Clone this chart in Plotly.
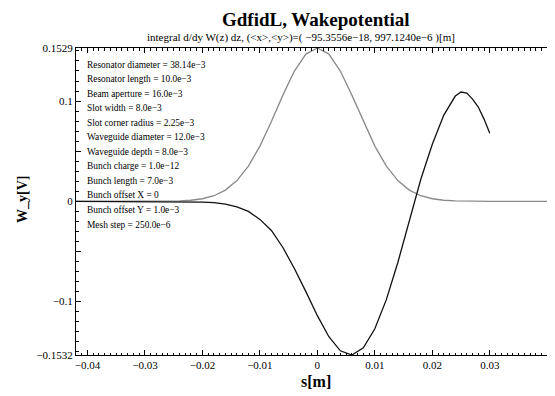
import plotly.graph_objects as go

# ---- data ----
s_charge = [-0.042, -0.030, -0.028, -0.026, -0.024, -0.022, -0.020, -0.018, -0.016, -0.014,
            -0.012, -0.010, -0.008, -0.006, -0.004, -0.002, 0.000, 0.002, 0.004, 0.006,
            0.008, 0.010, 0.012, 0.014, 0.016, 0.018, 0.020, 0.022, 0.024, 0.026,
            0.028, 0.030, 0.041]
charge = [0.0, 0.0, 0.0, 0.0001, 0.0004, 0.0011, 0.0026, 0.0056, 0.0112, 0.0207,
          0.0352, 0.0551, 0.0796, 0.1059, 0.1299, 0.1468, 0.1529, 0.1468, 0.1299, 0.1059,
          0.0796, 0.0551, 0.0352, 0.0207, 0.0112, 0.0056, 0.0026, 0.0011, 0.0004, 0.0001,
          0.0, 0.0, 0.0]

s_wake = [-0.042, -0.030, -0.024, -0.020, -0.018, -0.016, -0.014, -0.012, -0.010, -0.008,
          -0.006, -0.004, -0.002, 0.000, 0.002, 0.004, 0.006, 0.008, 0.010, 0.012,
          0.014, 0.016, 0.018, 0.020, 0.022, 0.024, 0.025, 0.026, 0.027, 0.028,
          0.029, 0.030]
wake = [0.0, 0.0, -0.0002, -0.0007, -0.0013, -0.0028, -0.0055, -0.0100, -0.0180, -0.0290,
        -0.0460, -0.0670, -0.0900, -0.1140, -0.1350, -0.1490, -0.1532, -0.1460, -0.1270, -0.0980,
        -0.0610, -0.0200, 0.0220, 0.0570, 0.0860, 0.1050, 0.1090, 0.1080, 0.1020, 0.0940,
        0.0820, 0.0680]

x_tickvals = [-0.04, -0.03, -0.02, -0.01, 0, 0.01, 0.02, 0.03, 0.04]
x_ticktext = ["−0.04", "−0.03", "−0.02", "−0.01", "0", "0.01", "0.02", "0.03", "0.04"]
y_tickvals = [-0.1532, -0.1, -0.05, 0, 0.05, 0.1, 0.1529]
y_ticktext = ["−0.1532", "−0.1", "", "0", "", "0.1", "0.1529"]

params = [
    "Resonator diameter = 38.14e−3",
    "Resonator length = 10.0e−3",
    "Beam aperture = 16.0e−3",
    "Slot width = 8.0e−3",
    "Slot corner radius = 2.25e−3",
    "Waveguide diameter = 12.0e−3",
    "Waveguide depth = 8.0e−3",
    "Bunch charge = 1.0e−12",
    "Bunch length = 7.0e−3",
    "Bunch offset X = 0",
    "Bunch offset Y = 1.0e−3",
    "Mesh step = 250.0e−6",
]

title = "GdfidL, Wakepotential"
subtitle = "integral d/dy W(z) dz, (&lt;x&gt;,&lt;y&gt;)=( −95.3556e−18, 997.1240e−6 )[m]"

# ---- figure ----
# the page body has an 8px default margin, so the figure is laid out 8px smaller
# and every reference pixel position is shifted by that offset
OFF = 8
W, H = 555 - OFF, 396 - OFF
L, R, T, B = 76 - OFF, 2, 48 - OFF, 41
FONT = "Liberation Serif, Times New Roman, serif"

fig = go.Figure()
fig.add_trace(go.Scatter(x=s_charge, y=charge, mode="lines",
                         line=dict(color="#8a8a8a", width=1.3), hoverinfo="skip"))
fig.add_trace(go.Scatter(x=s_wake, y=wake, mode="lines",
                         line=dict(color="#111111", width=1.3), hoverinfo="skip"))

def py_(py):
    py -= OFF
    return 1 - (py - T) / (H - T - B)

def px_(px):
    px -= OFF
    return (px - L) / (W - L - R)

ann = []
ann.append(dict(text="<b>" + title + "</b>", x=px_(316), y=py_(8),
                xref="paper", yref="paper", showarrow=False, borderpad=0,
                font=dict(family=FONT, size=19, color="black"), xanchor="center", yanchor="top"))
ann.append(dict(text=subtitle, x=px_(301), y=py_(38),
                xref="paper", yref="paper", showarrow=False, borderpad=0,
                font=dict(family=FONT, size=11, color="black"), xanchor="center", yanchor="middle"))
for i, p in enumerate(params):
    ann.append(dict(text=p, x=px_(85), y=py_(64.5 + 14.55 * i),
                    xref="paper", yref="paper", showarrow=False, xanchor="left", yanchor="middle",
                    font=dict(family=FONT, size=9.4, color="black")))
ann.append(dict(text="<b>s[m]</b>", x=px_(316), y=py_(381),
                xref="paper", yref="paper", showarrow=False,
                font=dict(family=FONT, size=16, color="black"), xanchor="center", yanchor="middle"))
ann.append(dict(text="<b>W_y[V]</b>", x=px_(22), y=py_(200),
                xref="paper", yref="paper", showarrow=False, textangle=-90,
                font=dict(family=FONT, size=14, color="black"), xanchor="center", yanchor="middle"))

axis_common = dict(showgrid=False, zeroline=False, showline=True, linecolor="black", linewidth=1,
                   mirror="allticks", ticks="inside", tickcolor="black", tickwidth=1,
                   tickfont=dict(family=FONT, size=11, color="black"))

fig.update_xaxes(range=[-0.042, 0.041], tickvals=x_tickvals, ticktext=x_ticktext, ticklen=5,
                 minor=dict(dtick=0.001, tick0=0, ticks="inside", ticklen=2.5, tickcolor="black"),
                 **axis_common)
fig.update_yaxes(range=[-0.1532, 0.1529], tickvals=y_tickvals, ticktext=y_ticktext, ticklen=5,
                 minor=dict(dtick=0.01, tick0=0, ticks="inside", ticklen=2.5, tickcolor="black"),
                 **axis_common)

fig.update_layout(width=W, height=H, margin=dict(l=L, r=R, t=T, b=B),
                  plot_bgcolor="white", paper_bgcolor="white", showlegend=False,
                  annotations=ann)

fig.write_html("out.html")
